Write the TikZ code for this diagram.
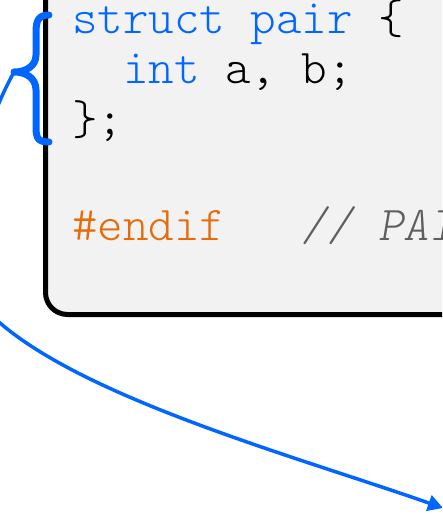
\documentclass[tikz,border=0pt]{standalone}
\usepackage{fontspec}
\newfontfamily\codefont[ItalicFont=lmmonolt10-oblique.otf]{lmmonolt10-regular.otf}
\usetikzlibrary{arrows.meta}
\definecolor{kwblue}{RGB}{0,102,255}
\definecolor{ppblue}{RGB}{0,102,255}
\definecolor{pporange}{RGB}{228,108,10}
\definecolor{cmtgray}{RGB}{95,95,95}
\definecolor{boxfill}{RGB}{242,242,242}
\tikzset{
  codeline/.style={anchor=base west, inner sep=0pt, font=\codefont\fontsize{48.6}{56}\selectfont},
  codebox/.style={draw=black, line width=5pt, fill=boxfill, rounded corners=22pt},
  bracestyle/.style={draw=ppblue, line width=7pt, line cap=round, line join=round},
  linkarrow/.style={draw=ppblue, line width=3.5pt, -{Triangle[length=15pt,width=16pt]}}
}
\begin{document}
\begin{tikzpicture}[x=1pt,y=-1pt]
\clip (0,0) rectangle (442,519);
\fill[white] (0,0) rectangle (442,519);
% code box
\draw[codebox] (45.5,-60) rectangle (620,314.5);
% code lines
\node[codeline] (l1) at (72,34) {\textcolor{kwblue}{struct pair} \{};
\node[codeline] (l2) at (72,84) {\ \ \textcolor{kwblue}{int} a, b;};
\node[codeline] (l3) at (72,134) {\};};
\node[codeline] (l4) at (72,240) {\textcolor{pporange}{\#endif}\ \ \ \textcolor{cmtgray}{\itshape // PAIR\_H}};
% brace
\draw[bracestyle] (49,15) .. controls (39,15) and (36,20) .. (36,32) -- (36,55)
  .. controls (36,66) and (26,72) .. (14,72)
  .. controls (26,72) and (36,78) .. (36,90) -- (36,128)
  .. controls (36,139) and (39,142) .. (49,142);
% arrow
\coordinate (tip) at (14,72);
\coordinate (c1) at (-35,161);
\coordinate (c2) at (-46,284);
\coordinate (mid) at (0,323);
\coordinate (c3) at (91,401);
\coordinate (c4) at (301,458);
\coordinate (end) at (443,508);
\draw[linkarrow] (tip) .. controls (c1) and (c2) .. (mid) .. controls (c3) and (c4) .. (end);
\end{tikzpicture}
\end{document}
